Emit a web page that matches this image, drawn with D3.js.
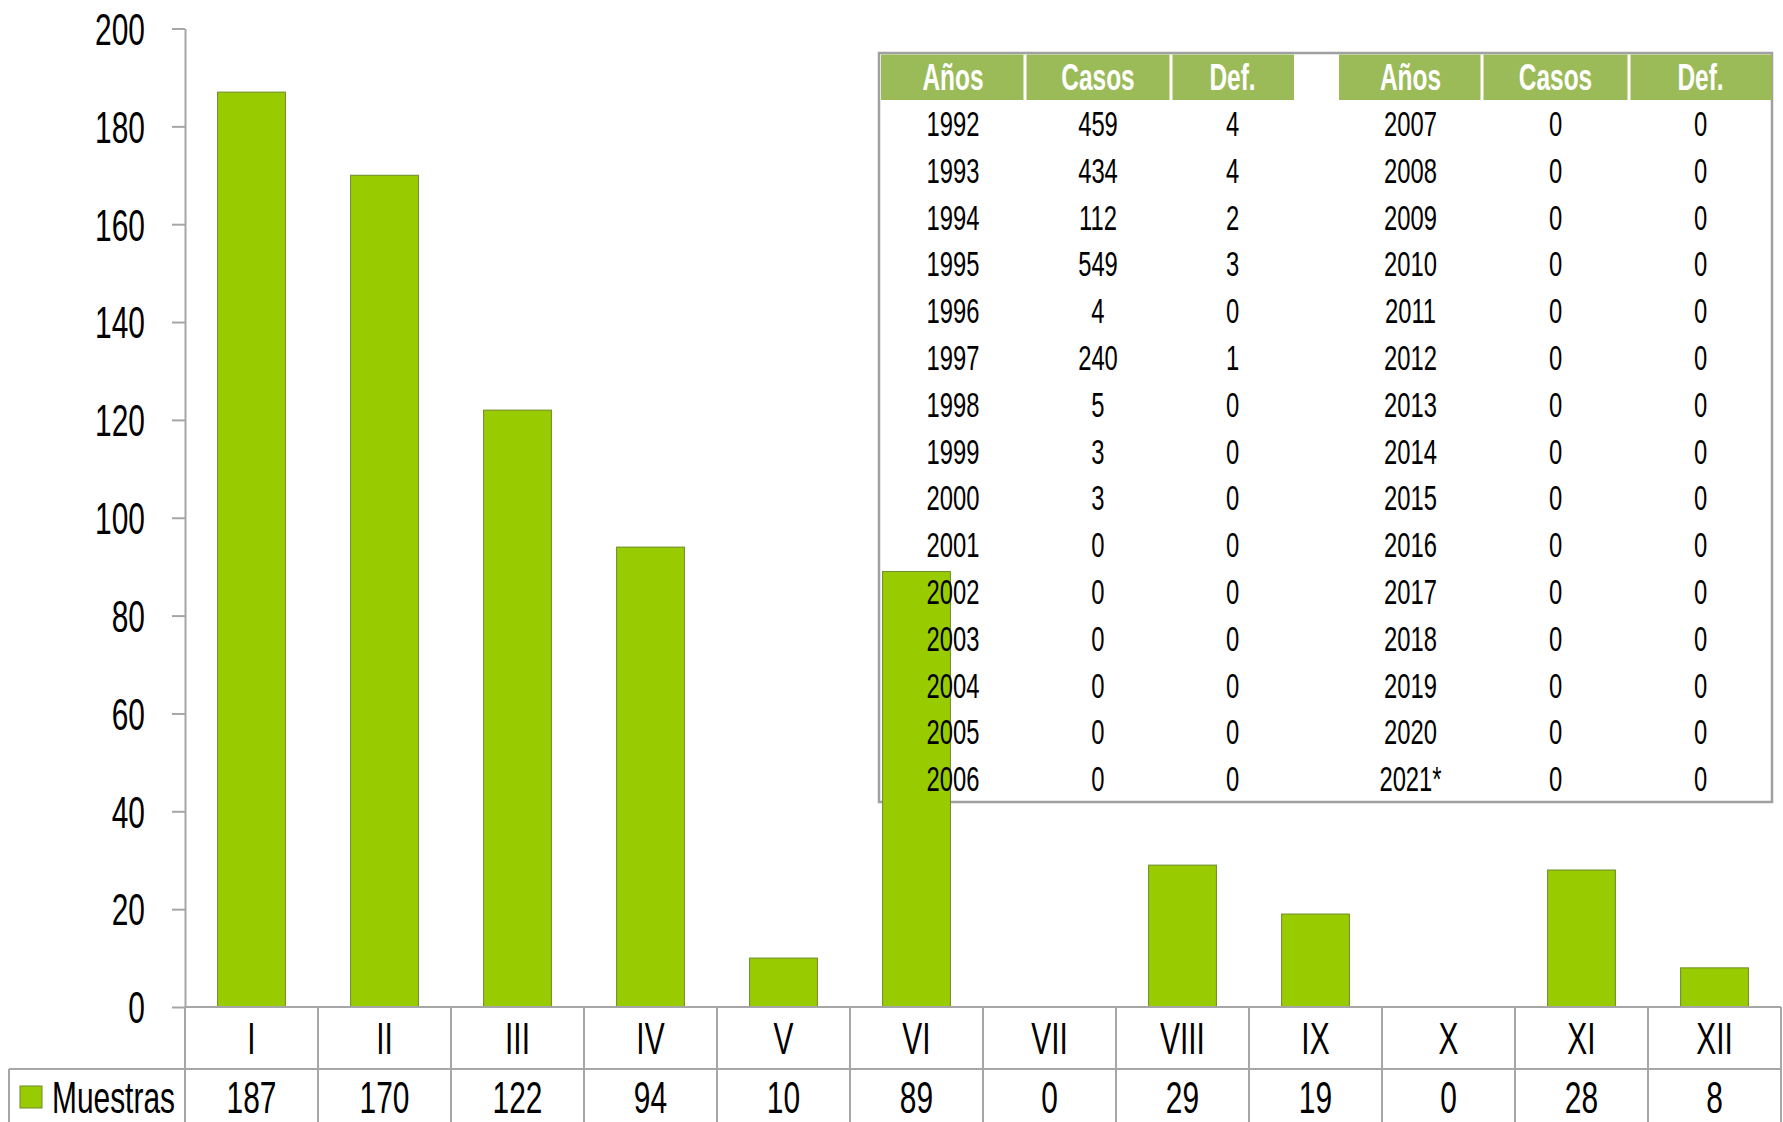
<!DOCTYPE html>
<html>
<head>
<meta charset="utf-8">
<script src="https://cdn.jsdelivr.net/npm/d3@7"></script>
<style>
  body { margin: 0; background: #fff; }
  svg { display: block; }
  text { font-family: "Liberation Sans", Arial, sans-serif; fill: #000; }
</style>
</head>
<body>
<svg id="chart" width="1783" height="1122"></svg>
<script>
// chart data
const months = ["I", "II", "III", "IV", "V", "VI", "VII", "VIII", "IX", "X", "XI", "XII"];
const muestras = [187, 170, 122, 94, 10, 89, 0, 29, 19, 0, 28, 8];
const yTicks = [0, 20, 40, 60, 80, 100, 120, 140, 160, 180, 200];
const seriesName = "Muestras";

// inset table data
const tableHeaders = ["Años", "Casos", "Def."];
const yearsA = ["1992", "1993", "1994", "1995", "1996", "1997", "1998", "1999", "2000", "2001", "2002", "2003", "2004", "2005", "2006"];
const casosA = [459, 434, 112, 549, 4, 240, 5, 3, 3, 0, 0, 0, 0, 0, 0];
const defA = [4, 4, 2, 3, 0, 1, 0, 0, 0, 0, 0, 0, 0, 0, 0];
const yearsB = ["2007", "2008", "2009", "2010", "2011", "2012", "2013", "2014", "2015", "2016", "2017", "2018", "2019", "2020", "2021*"];
const casosB = [0, 0, 0, 0, 0, 0, 0, 0, 0, 0, 0, 0, 0, 0, 0];
const defB = [0, 0, 0, 0, 0, 0, 0, 0, 0, 0, 0, 0, 0, 0, 0];

const svg = d3.select("#chart");
const SX = 0.68;          // squeeze text horizontally (condensed look)
const grid = "#a6a6a6";
const barFill = "#99cc00";
const barStroke = "#6b8a2a";
const headFill = "#9bbb59";
const fs = 44;

const plot = { left: 185, right: 1781, top: 28.5, base: 1007, catRow: 1069, bottom: 1122, legendLeft: 9 };
const tbl = { left: 881, top: 53, head: 100, bottom: 802 };
const colW = [144, 146, 123, 45, 143, 147, 143];
const colEdges = [tbl.left, ...d3.cumsum(colW).map(w => tbl.left + w)];

const x = d3.scaleBand().domain(months).range([plot.left, plot.right]);
const y = d3.scaleLinear().domain([0, 200]).range([plot.base, plot.top]);
const row = d3.scaleBand().domain(d3.range(yearsA.length)).range([tbl.head, tbl.bottom]);

// narrow text placed at (px, py) with a given anchor
function narrow(sel, px, py) {
  sel.attr("x", (d, i) => px(d, i) / SX)
    .attr("y", py)
    .attr("transform", `scale(${SX},1)`);
}

// ---- inset table frame + header
svg.append("rect")
  .attr("x", tbl.left - 2).attr("y", tbl.top)
  .attr("width", colEdges[7] - tbl.left + 2).attr("height", tbl.bottom - tbl.top)
  .attr("fill", "#fff").attr("stroke", "#a0a0a0").attr("stroke-width", 2.5);

[[0, 3], [4, 7]].forEach(([a, b]) => {
  svg.append("rect")
    .attr("x", colEdges[a]).attr("y", tbl.top + 1.5)
    .attr("width", colEdges[b] - colEdges[a]).attr("height", tbl.head - tbl.top - 1.5)
    .attr("fill", headFill);
});
svg.selectAll(".hsep")
  .data([1, 2, 5, 6])
  .enter().append("line")
  .attr("x1", c => colEdges[c]).attr("x2", c => colEdges[c])
  .attr("y1", tbl.top + 1.5).attr("y2", tbl.head)
  .attr("stroke", "#fff").attr("stroke-width", 3);

// ---- bars
svg.selectAll(".bar")
  .data(months.map((m, i) => ({ m, v: muestras[i] })).filter(d => d.v > 0))
  .enter().append("rect")
  .attr("x", d => x(d.m) + x.bandwidth() * 0.245)
  .attr("y", d => y(d.v))
  .attr("width", x.bandwidth() * 0.51)
  .attr("height", d => plot.base - y(d.v))
  .attr("fill", barFill)
  .attr("stroke", barStroke)
  .attr("stroke-width", 1);

// ---- y axis
const yAxis = svg.append("g")
  .attr("transform", `translate(${plot.left},0)`)
  .call(d3.axisLeft(y).tickValues(yTicks).tickSize(13).tickSizeOuter(0).tickPadding(27));
yAxis.select(".domain").attr("stroke", grid).attr("stroke-width", 2);
yAxis.selectAll(".tick line").attr("stroke", grid).attr("stroke-width", 2);
yAxis.selectAll("text")
  .style("font-family", "Liberation Sans, Arial, sans-serif")
  .attr("font-size", fs)
  .attr("x", -40 / SX)
  .attr("transform", `scale(${SX},1)`)
  .attr("dy", "0.36em");

// ---- data table under the axis
const gridG = svg.append("g").attr("stroke", grid).attr("stroke-width", 2);
gridG.append("line")
  .attr("x1", plot.left).attr("x2", plot.right)
  .attr("y1", plot.base).attr("y2", plot.base);
gridG.append("line")
  .attr("x1", plot.legendLeft).attr("x2", plot.right)
  .attr("y1", plot.catRow).attr("y2", plot.catRow);
gridG.selectAll(".vsep")
  .data([...months.map(m => x(m)), plot.right])
  .enter().append("line")
  .attr("x1", d => d).attr("x2", d => d)
  .attr("y1", plot.base).attr("y2", plot.bottom);
gridG.append("line")
  .attr("x1", plot.legendLeft).attr("x2", plot.legendLeft)
  .attr("y1", plot.catRow).attr("y2", plot.bottom);

svg.selectAll(".cat")
  .data(months)
  .enter().append("text")
  .attr("font-size", fs).attr("text-anchor", "middle").attr("dy", "0.36em")
  .text(d => d)
  .call(narrow, d => x(d) + x.bandwidth() / 2, (plot.base + plot.catRow) / 2);

svg.selectAll(".val")
  .data(muestras)
  .enter().append("text")
  .attr("font-size", fs).attr("text-anchor", "middle").attr("dy", "0.36em")
  .text(d => d)
  .call(narrow, (d, i) => x(months[i]) + x.bandwidth() / 2, 1097);

// legend
svg.append("rect")
  .attr("x", 20).attr("y", 1086).attr("width", 22).attr("height", 22)
  .attr("fill", barFill).attr("stroke", barStroke).attr("stroke-width", 1);
svg.append("text")
  .attr("font-size", fs).attr("dy", "0.36em")
  .text(seriesName)
  .call(narrow, () => 52, 1097);

// ---- inset table text
const headCols = [0, 1, 2, 4, 5, 6];
const colCenter = c => (colEdges[c] + colEdges[c + 1]) / 2;
svg.selectAll(".head")
  .data(headCols)
  .enter().append("text")
  .attr("font-size", 36).attr("font-weight", "bold").attr("text-anchor", "middle")
  .attr("dy", "0.36em").style("fill", "#fff")
  .text((c, i) => tableHeaders[i % 3])
  .call(narrow, c => colCenter(c), 77);

const tableCols = [
  { c: 0, vals: yearsA }, { c: 1, vals: casosA }, { c: 2, vals: defA },
  { c: 4, vals: yearsB }, { c: 5, vals: casosB }, { c: 6, vals: defB }
];
tableCols.forEach(col => {
  svg.selectAll(null)
    .data(col.vals)
    .enter().append("text")
    .attr("font-size", 35).attr("text-anchor", "middle").attr("dy", "0.36em")
    .text(d => d)
    .call(narrow, () => colCenter(col.c), (d, i) => row(i) + row.bandwidth() / 2);
});
</script>
</body>
</html>
